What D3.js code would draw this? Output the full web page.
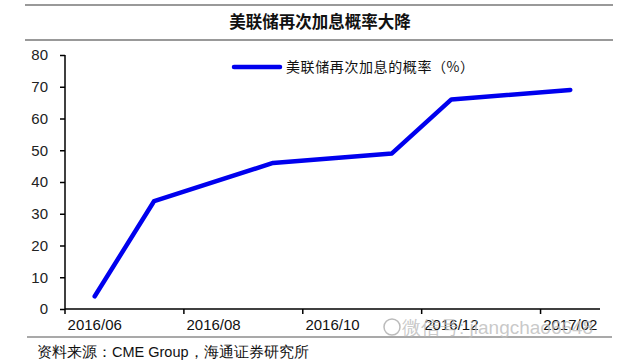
<!DOCTYPE html>
<html>
<head>
<meta charset="utf-8">
<script src="https://cdn.jsdelivr.net/npm/d3@7"></script>
<style>
  body { margin: 0; background: #fff; }
  text { font-family: "Liberation Sans", Arial, sans-serif; }
  .cjk { font-family: "Noto Sans CJK SC", sans-serif; }
</style>
</head>
<body>
<svg id="chart" width="640" height="364"></svg>
<script>
// months on the category axis
var months = ["2016/06", "2016/07", "2016/08", "2016/09", "2016/10", "2016/11", "2016/12", "2017/01", "2017/02"];
// months that have a value, and the values (%)
var pointMonths = ["2016/06", "2016/07", "2016/09", "2016/11", "2016/12", "2017/02"];
var hikeProb = [4, 34, 46, 49, 66, 69];
var tickMonths = ["2016/06", "2016/08", "2016/10", "2016/12", "2017/02"];
var yTicks = [0, 10, 20, 30, 40, 50, 60, 70, 80];

var svg = d3.select("#chart");
var margin = {top: 55, left: 65, right: 40, bottom: 55};
var width = 640 - margin.left - margin.right;
var height = 364 - margin.top - margin.bottom;

// frame lines and title
svg.append("line").attr("x1", 25).attr("x2", 613).attr("y1", 5).attr("y2", 5)
  .attr("stroke", "#777").attr("stroke-width", 1.5);
svg.append("line").attr("x1", 25).attr("x2", 613).attr("y1", 40).attr("y2", 40)
  .attr("stroke", "#777").attr("stroke-width", 1.5);
svg.append("text").attr("class", "cjk")
  .attr("x", 320).attr("y", 28).attr("text-anchor", "middle")
  .attr("font-size", 16.5).attr("font-weight", "bold").attr("fill", "#111")
  .text("美联储再次加息概率大降");

var g = svg.append("g")
  .attr("transform", "translate(" + margin.left + "," + margin.top + ")");

var x = d3.scaleBand().domain(months).range([0, width]).padding(0);
var y = d3.scaleLinear().domain([0, 80]).range([height, 0]);

// y axis
var yAxis = g.append("g")
  .call(d3.axisLeft(y).tickValues(yTicks).tickSize(5).tickPadding(12));
yAxis.selectAll("text").attr("font-size", 15).attr("fill", "#222")
  .style("font-family", "'Liberation Sans', Arial, sans-serif");
yAxis.selectAll("line").attr("stroke", "#000").attr("stroke-width", 1.5);
yAxis.select(".domain").attr("stroke", "#000").attr("stroke-width", 1.5)
  .attr("d", "M0," + height + "V0");

// x axis: ticks at band edges, labels at band centres
var xAxis = g.append("g").attr("transform", "translate(0," + height + ")");
xAxis.append("line").attr("x1", 0).attr("x2", width)
  .attr("stroke", "#000").attr("stroke-width", 1.5);
xAxis.selectAll(".tick").data(tickMonths).enter().append("line")
  .attr("x1", function(d) { return x(d); }).attr("x2", function(d) { return x(d); })
  .attr("y1", 0).attr("y2", 5)
  .attr("stroke", "#000").attr("stroke-width", 1.5);
xAxis.selectAll(".lbl").data(tickMonths).enter().append("text")
  .attr("x", function(d) { return x(d) + x.bandwidth() / 2; })
  .attr("y", 21).attr("text-anchor", "middle")
  .attr("font-size", 15).attr("fill", "#111")
  .text(function(d) { return d; });

// series line
var points = pointMonths.map(function(m, i) { return {m: m, v: hikeProb[i]}; });
var line = d3.line()
  .x(function(d) { return x(d.m) + x.bandwidth() / 2; })
  .y(function(d) { return y(d.v); });
g.append("path").datum(points)
  .attr("d", line).attr("fill", "none")
  .attr("stroke", "#0000ee").attr("stroke-width", 4.5)
  .attr("stroke-linejoin", "round").attr("stroke-linecap", "round");

// legend
svg.append("line").attr("x1", 234).attr("x2", 280).attr("y1", 67).attr("y2", 67)
  .attr("stroke", "#0000ee").attr("stroke-width", 4.5).attr("stroke-linecap", "round");
svg.append("text").attr("class", "cjk")
  .attr("x", 286).attr("y", 72).attr("font-size", 14).attr("letter-spacing", 0.6)
  .attr("fill", "#111")
  .text("美联储再次加息的概率（%）");

// bottom rule and source
svg.append("line").attr("x1", 27).attr("x2", 612).attr("y1", 337).attr("y2", 337)
  .attr("stroke", "#555").attr("stroke-width", 1.2);
svg.append("text").attr("x", 37).attr("y", 357).attr("font-size", 14.5).attr("fill", "#111")
  .text("资料来源：CME Group，海通证券研究所");

// watermark
svg.append("circle").attr("cx", 392).attr("cy", 327).attr("r", 8)
  .attr("fill", "none").attr("stroke", "#bbb").attr("stroke-width", 1.5);
svg.append("text").attr("x", 402).attr("y", 334).attr("font-size", 19)
  .attr("fill", "#bbb").attr("fill-opacity", 0.8)
  .text("微信号: jiangchao6648");
</script>
</body>
</html>
